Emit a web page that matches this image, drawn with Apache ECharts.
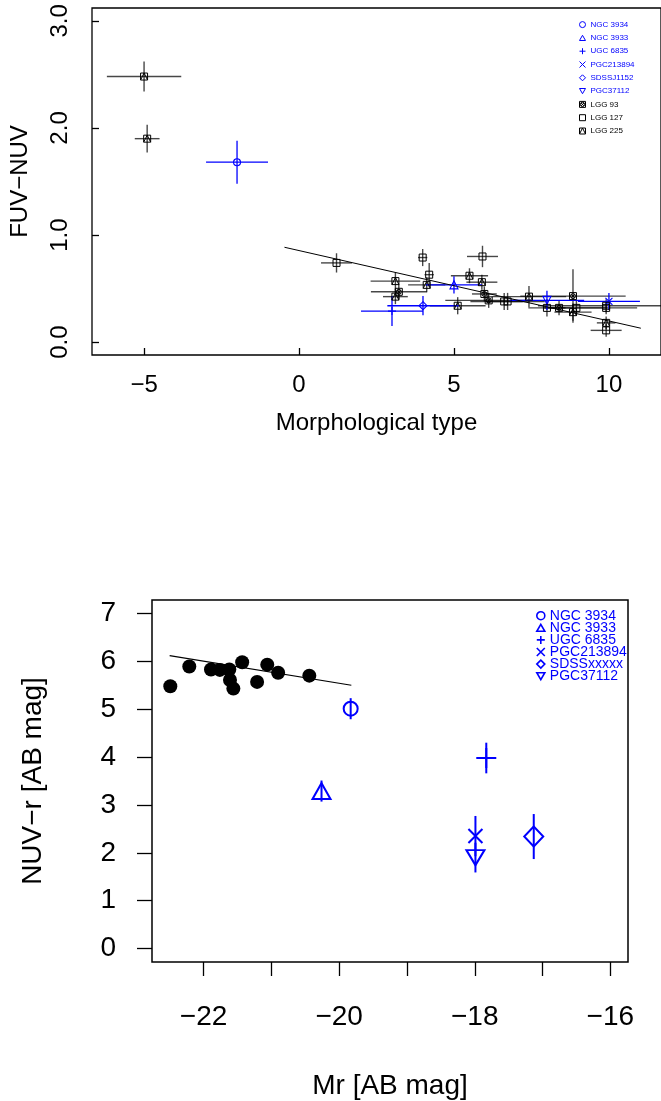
<!DOCTYPE html>
<html><head><meta charset="utf-8">
<script src="https://cdn.jsdelivr.net/npm/echarts@6/dist/echarts.min.js"></script>
<style>html,body{margin:0;padding:0;background:#fff}#c{width:661px;height:1101px}</style>
</head><body><div id="c"></div>
<script>
// ---------- Top panel: [morphological type, FUV-NUV, xErr, yErr] ----------
const ngc3934Top   = [[-2.0, 1.68, 1.0, 0.20]];
const ngc3933Top   = [[5.0, 0.535, 0.9, 0.08]];
const ugc6835Top   = [[3.0, 0.29, 1.0, 0.14]];
const pgc213894Top = [[10.0, 0.38, 1.0, 0.08]];
const sdssj1152Top = [[4.0, 0.34, 1.15, 0.09]];
const pgc37112Top  = [[8.0, 0.39, 1.2, 0.09]];
const lgg93  = [[3.22, 0.47, 0.9, 0.07], [5.98, 0.45, 0.4, 0.07], [6.12, 0.39, 1.4, 0.07],
                [8.39, 0.32, 0.5, 0.07], [8.84, 0.43, 1.7, 0.25]];
const lgg127 = [[1.21, 0.74, 0.5, 0.09], [3.99, 0.79, 0.15, 0.08], [5.92, 0.80, 0.5, 0.10],
                [4.20, 0.63, 0.15, 0.11], [6.62, 0.38, 0.6, 0.08], [6.73, 0.38, 1.2, 0.08],
                [8.00, 0.32, 0.6, 0.08], [8.95, 0.32, 1.0, 0.07], [9.91, 0.34, 2.2, 0.06],
                [9.91, 0.11, 0.5, 0.06], [9.91, 0.32, 1.0, 0.06]];
const lgg225 = [[-5.0, 2.48, 1.2, 0.14], [-4.9, 1.90, 0.4, 0.13], [5.5, 0.62, 0.6, 0.07],
                [3.11, 0.57, 0.8, 0.08], [4.12, 0.535, 0.6, 0.07], [5.9, 0.56, 0.5, 0.07],
                [3.11, 0.425, 0.4, 0.07], [5.12, 0.34, 0.9, 0.08], [7.42, 0.425, 1.2, 0.10],
                [8.84, 0.28, 0.6, 0.08], [9.91, 0.18, 0.3, 0.06]];
const fitTop = [[-0.47, 0.886], [11.03, 0.13]];
const topXTicks = [-5, 0, 5, 10];
const topYTicks = [0, 1, 2, 3];

// ---------- Bottom panel ----------
const mrBlack   = [-22.49, -22.21, -21.89, -21.76, -21.62, -21.61, -21.56, -21.43, -21.21, -21.06, -20.90, -20.44];
const nuvrBlack = [5.48, 5.89, 5.83, 5.82, 5.83, 5.61, 5.43, 5.98, 5.57, 5.93, 5.76, 5.70];
// [Mr, NUV-r, yErr]
const ngc3934Bot   = [[-19.83, 5.01, 0.22]];
const ngc3933Bot   = [[-20.26, 3.29, 0.22]];
const ugc6835Bot   = [[-17.83, 3.98, 0.32]];
const pgc213894Bot = [[-17.99, 2.35, 0.42]];
const sdssBot      = [[-17.13, 2.34, 0.47]];
const pgc37112Bot  = [[-17.99, 1.90, 0.31]];
const fitBot = [[-22.5, 6.12], [-19.82, 5.50]];
const botXTicks = [-22, -21, -20, -19, -18, -17, -16];
const botXLabels = [-22, -20, -18, -16];
const botYTicks = [0, 1, 2, 3, 4, 5, 6, 7];

const FONT = '"Liberation Sans", Arial, sans-serif';
const BLUE = '#0000ff';
const SQ_TRI = 'path://M0,0L10,0L10,10L0,10ZM0,10L5,0L10,10';
const SQ_CX = 'path://M0,0L10,0L10,10L0,10ZM1.5,5A3.5,3.5,0,1,1,8.5,5A3.5,3.5,0,1,1,1.5,5ZM2.5,2.5L7.5,7.5M7.5,2.5L2.5,7.5';
const SQ = 'path://M0,0L10,0L10,10L0,10Z';
const PLUS = 'path://M5,0L5,10M0,5L10,5';
const CROSS = 'path://M0,0L10,10M10,0L0,10';
const TRI_DOWN = 'path://M0,0L10,0L5,8.66Z';
const TRI_UP = 'path://M5,0L10,8.66L0,8.66Z';

const minus = v => (v < 0 ? '\u2212' + Math.abs(v) : String(v));

function errRender(color, width) {
  return function (params, api) {
    const x = api.value(0), y = api.value(1), xe = api.value(2), ye = api.value(3);
    const ch = [];
    if (xe > 0) {
      const a = api.coord([x - xe, y]), b = api.coord([x + xe, y]);
      ch.push({type: 'line', shape: {x1: a[0], y1: a[1], x2: b[0], y2: b[1]}, style: {stroke: color, lineWidth: width}});
    }
    if (ye > 0) {
      const a = api.coord([x, y - ye]), b = api.coord([x, y + ye]);
      ch.push({type: 'line', shape: {x1: a[0], y1: a[1], x2: b[0], y2: b[1]}, style: {stroke: color, lineWidth: width}});
    }
    return {type: 'group', children: ch};
  };
}
function errSeries(data, axis, color, width) {
  return {type: 'custom', xAxisIndex: axis, yAxisIndex: axis, data: data, encode: {x: 0, y: 1},
          renderItem: errRender(color, width), silent: true, z: 1};
}
function pts(name, data, axis, symbol, size, color, bw) {
  return {type: 'scatter', name: name, xAxisIndex: axis, yAxisIndex: axis, data: data,
          symbol: symbol, symbolSize: size, silent: true, z: 3,
          itemStyle: {color: 'transparent', borderColor: color, borderWidth: bw, opacity: 1}};
}

const blackTop = lgg93.concat(lgg127, lgg225);
const blueTop = ngc3934Top.concat(ngc3933Top, ugc6835Top, pgc213894Top, sdssj1152Top, pgc37112Top);
const toErr = arr => arr.map(d => [d[0], d[1], 0, d[2]]);
const blueBotErr = toErr(ngc3934Bot.concat(ngc3933Bot, ugc6835Bot, pgc213894Bot, sdssBot, pgc37112Bot));
const blackBot = mrBlack.map((m, i) => [m, nuvrBlack[i]]);

const axisText = size => ({fontSize: size, color: '#000', fontFamily: FONT});

const option = {
  backgroundColor: '#fff',
  animation: false,
  grid: [
    {left: 92, top: 8, width: 570, height: 347, show: true, borderColor: '#000', borderWidth: 1.3, backgroundColor: 'transparent'},
    {left: 152, top: 600, width: 476, height: 364, show: true, borderColor: '#000', borderWidth: 1.5, backgroundColor: 'transparent'}
  ],
  xAxis: [
    {type: 'value', gridIndex: 0, min: -6.68, max: 11.68,
     axisLine: {show: false, onZero: false}, splitLine: {show: false},
     axisTick: {show: true, inside: true, length: 7, customValues: topXTicks, lineStyle: {color: '#000', width: 1.3}},
     axisLabel: Object.assign({customValues: topXTicks, formatter: minus, margin: 18}, axisText(24)),
     name: 'Morphological type', nameLocation: 'middle', nameGap: 56.5, nameTextStyle: axisText(24)},
    {type: 'value', gridIndex: 1, min: -22.76, max: -15.74,
     axisLine: {show: false, onZero: false}, splitLine: {show: false},
     axisTick: {show: true, inside: false, length: 14, customValues: botXTicks, lineStyle: {color: '#000', width: 1.3}},
     axisLabel: Object.assign({customValues: botXLabels, formatter: minus, margin: 41}, axisText(28)),
     name: 'Mr [AB mag]', nameLocation: 'middle', nameGap: 110, nameTextStyle: axisText(28)}
  ],
  yAxis: [
    {type: 'value', gridIndex: 0, min: -0.12, max: 3.12,
     axisLine: {show: false, onZero: false}, splitLine: {show: false},
     axisTick: {show: true, inside: true, length: 7, customValues: topYTicks, lineStyle: {color: '#000', width: 1.3}},
     axisLabel: Object.assign({customValues: topYTicks, formatter: v => v.toFixed(1), rotate: 90, margin: 20}, axisText(24)),
     name: 'FUV\u2212NUV', nameLocation: 'middle', nameGap: 60, nameTextStyle: axisText(24)},
    {type: 'value', gridIndex: 1, min: -0.28, max: 7.28,
     axisLine: {show: false, onZero: false}, splitLine: {show: false},
     axisTick: {show: true, inside: false, length: 15, customValues: botYTicks, lineStyle: {color: '#000', width: 1.3}},
     axisLabel: Object.assign({customValues: botYTicks, formatter: String, margin: 36}, axisText(28)),
     name: 'NUV\u2212r [AB mag]', nameLocation: 'middle', nameGap: 105, nameTextStyle: axisText(28)}
  ],
  legend: [
    {orient: 'vertical', left: 579, top: 20.6, padding: 0, itemWidth: 6, itemHeight: 6, itemGap: 5.3,
     selectedMode: false, itemStyle: {borderWidth: 1},
     textStyle: {fontSize: 8, lineHeight: 8, fontFamily: FONT, color: '#000'},
     data: [
       {name: 'NGC 3934', textStyle: {color: BLUE}}, {name: 'NGC 3933', textStyle: {color: BLUE}},
       {name: 'UGC 6835', textStyle: {color: BLUE}}, {name: 'PGC213894', textStyle: {color: BLUE}},
       {name: 'SDSSJ1152', textStyle: {color: BLUE}}, {name: 'PGC37112', textStyle: {color: BLUE}},
       {name: 'LGG 93'}, {name: 'LGG 127'}, {name: 'LGG 225'}]},
    {orient: 'vertical', left: 536, top: 608.7, padding: 0, itemWidth: 8, itemHeight: 8, itemGap: -1.9,
     selectedMode: false, itemStyle: {borderWidth: 1.6},
     textStyle: {fontSize: 14, fontFamily: FONT, color: BLUE},
     data: ['NGC 3934', 'NGC 3933', 'UGC 6835', 'PGC213894', 'SDSSxxxxx', 'PGC37112']}
  ],
  series: [
    // top panel
    errSeries(blackTop, 0, 'rgba(0,0,0,0.72)', 1.4),
    errSeries(blueTop, 0, BLUE, 1.3),
    {type: 'line', xAxisIndex: 0, yAxisIndex: 0, data: fitTop, symbol: 'none', silent: true, z: 2,
     lineStyle: {color: '#000', width: 1}},
    pts('NGC 3934', ngc3934Top, 0, 'circle', 7, BLUE, 1.1),
    pts('NGC 3933', ngc3933Top, 0, TRI_UP, 8, BLUE, 1.1),
    pts('UGC 6835', ugc6835Top, 0, PLUS, 8, BLUE, 1.1),
    pts('PGC213894', pgc213894Top, 0, CROSS, 7, BLUE, 1.1),
    pts('SDSSJ1152', sdssj1152Top, 0, 'diamond', 8, BLUE, 1.1),
    pts('PGC37112', pgc37112Top, 0, TRI_DOWN, 8, BLUE, 1.1),
    pts('LGG 93', lgg93, 0, SQ_CX, 7, '#000', 1),
    pts('LGG 127', lgg127, 0, SQ, 7, '#000', 1),
    pts('LGG 225', lgg225, 0, SQ_TRI, 7, '#000', 1),
    // bottom panel
    {type: 'scatter', xAxisIndex: 1, yAxisIndex: 1, data: blackBot, symbol: 'circle', symbolSize: 14,
     silent: true, z: 3, itemStyle: {color: '#000', opacity: 1}},
    {type: 'line', xAxisIndex: 1, yAxisIndex: 1, data: fitBot, symbol: 'none', silent: true, z: 4,
     lineStyle: {color: '#000', width: 1.2}},
    errSeries(blueBotErr, 1, BLUE, 2),
    pts('NGC 3934', ngc3934Bot, 1, 'circle', 14, BLUE, 2),
    pts('NGC 3933', ngc3933Bot, 1, TRI_UP, [18, 16], BLUE, 2),
    pts('UGC 6835', ugc6835Bot, 1, PLUS, 20, BLUE, 2),
    pts('PGC213894', pgc213894Bot, 1, CROSS, 14, BLUE, 2),
    pts('SDSSxxxxx', sdssBot, 1, 'diamond', [19, 20], BLUE, 2),
    pts('PGC37112', pgc37112Bot, 1, TRI_DOWN, [18, 15], BLUE, 2)
  ]
};
const chart = echarts.init(document.getElementById('c'), null, {renderer: 'canvas'});
chart.setOption(option);
</script>
</body></html>
